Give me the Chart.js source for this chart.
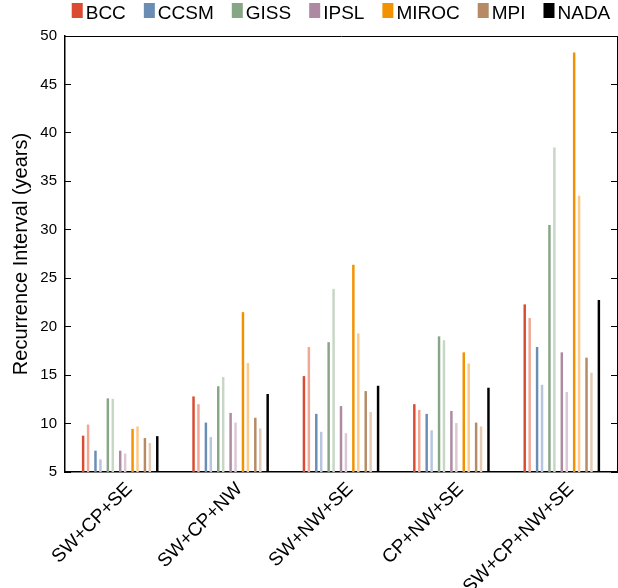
<!DOCTYPE html>
<html>
<head>
<meta charset="utf-8">
<title>Recurrence interval by region</title>
<script src="https://cdn.jsdelivr.net/npm/chart.js@4.4.1/dist/chart.umd.min.js"></script>
<style>
  html, body { margin: 0; padding: 0; background: #fff; }
  #wrap { width: 618px; height: 588px; position: relative; }
</style>
</head>
<body>
<div id="wrap"><canvas id="recurrenceChart"></canvas></div>
<script>
// region combinations on the x axis
const regions = ["SW+CP+SE", "SW+CP+NW", "SW+NW+SE", "CP+NW+SE", "SW+CP+NW+SE"];

// recurrence interval (years), dark bar = first run, light bar = second run
const bccA   = [8.75, 12.8, 14.9, 12.0, 22.3];
const bccB   = [9.9, 12.0, 17.9, 11.4, 20.9];
const ccsmA  = [7.2, 10.1, 11.0, 11.0, 17.9];
const ccsmB  = [6.3, 8.6, 9.15, 9.3, 14.0];
const gissA  = [12.6, 13.85, 18.4, 19.0, 30.5];
const gissB  = [12.55, 14.8, 23.9, 18.6, 38.5];
const ipslA  = [7.2, 11.1, 11.8, 11.3, 17.35];
const ipslB  = [6.9, 10.1, 9.0, 10.05, 13.25];
const mirocA = [9.45, 21.5, 26.4, 17.35, 48.3];
const mirocB = [9.7, 16.25, 19.3, 16.2, 33.5];
const mpiA   = [8.5, 10.6, 13.35, 10.1, 16.8];
const mpiB   = [8.0, 9.5, 11.2, 9.7, 15.25];
const nada   = [8.7, 13.05, 13.9, 13.7, 22.75];

const yTicks = [5, 10, 15, 20, 25, 30, 35, 40, 45, 50];

const models = [
  { name: "BCC",   a: bccA,   b: bccB,   dark: "#db4b33", light: "#f1a793" },
  { name: "CCSM",  a: ccsmA,  b: ccsmB,  dark: "#6a8db4", light: "#b7c6de" },
  { name: "GISS",  a: gissA,  b: gissB,  dark: "#87a686", light: "#c7d6c5" },
  { name: "IPSL",  a: ipslA,  b: ipslB,  dark: "#ad8aa2", light: "#dcc7d5" },
  { name: "MIROC", a: mirocA, b: mirocB, dark: "#f39200", light: "#fdc98b" },
  { name: "MPI",   a: mpiA,   b: mpiB,   dark: "#b58a65", light: "#e6cbb4" }
];

// pick a condensed face for legend / category labels if there is one
function hasFont(name) {
  const c = document.createElement("canvas").getContext("2d");
  c.font = "40px monospace";
  const w1 = c.measureText("MIROC NADA SW+CP").width;
  c.font = '40px "' + name + '", monospace';
  const w2 = c.measureText("MIROC NADA SW+CP").width;
  return w1 !== w2;
}
const labelFont = hasFont("Liberation Sans Narrow")
  ? { family: '"Liberation Sans Narrow", "Liberation Sans", sans-serif', size: 21 }
  : { family: '"Liberation Sans", Arial, sans-serif', size: 19 };

// dark, gap, light, gap, gap ... then NADA : gives the paired spacing
const datasets = [];
const empty = regions.map(() => null);
models.forEach(m => {
  datasets.push({ label: m.name, legendLabel: m.name, data: m.a, backgroundColor: m.dark });
  datasets.push({ label: "", data: empty });
  datasets.push({ label: m.name + " (2)", data: m.b, backgroundColor: m.light });
  datasets.push({ label: "", data: empty });
  datasets.push({ label: "", data: empty });
});
datasets.push({ label: "NADA", legendLabel: "NADA", data: nada, backgroundColor: "#000000" });

const swatchLegend = {
  id: "swatchLegend",
  afterDraw(chart) {
    const ctx = chart.ctx;
    const items = chart.data.datasets.filter(d => d.legendLabel);
    const boxW = 11, boxH = 15, textGap = 3, itemGap = 18;
    ctx.save();
    ctx.font = labelFont.size + "px " + labelFont.family;
    const widths = items.map(d => ctx.measureText(d.legendLabel).width);
    const total = widths.reduce((s, w) => s + boxW + textGap + w, 0) + itemGap * (items.length - 1);
    const area = chart.chartArea;
    let x = (area.left + area.right) / 2 - total / 2;
    ctx.textBaseline = "alphabetic";
    items.forEach((d, i) => {
      ctx.fillStyle = d.backgroundColor;
      ctx.fillRect(x, 3, boxW, boxH);
      ctx.fillStyle = "#000";
      ctx.fillText(d.legendLabel, x + boxW + textGap, 18.5);
      x += boxW + textGap + widths[i] + itemGap;
    });
    ctx.restore();
  }
};

Chart.defaults.color = "#000";
Chart.defaults.font.family = '"Liberation Sans", Arial, sans-serif';

const ctx = document.getElementById("recurrenceChart").getContext("2d");
new Chart(ctx, {
  type: "bar",
  data: { labels: regions, datasets: datasets },
  options: {
    responsive: true,
    maintainAspectRatio: false,
    animation: false,
    categoryPercentage: 0.694,
    barPercentage: 1,
    layout: { padding: { top: 36, left: 0, right: 0, bottom: 0 } },
    plugins: {
      legend: { display: false },
      tooltip: { enabled: false }
    },
    scales: {
      x: {
        position: "bottom",
        grid: { display: false },
        border: { display: true, color: "#000", width: 1.5 },
        ticks: {
          maxRotation: 45, minRotation: 45,
          padding: -2,
          labelOffset: 9,
          font: { family: labelFont.family, size: labelFont.size }
        },
        afterFit(scale) { scale.height = 116; }
      },
      xTop: {
        type: "category",
        position: "top",
        labels: regions,
        grid: { display: false },
        border: { display: true, color: "#000", width: 1 },
        ticks: { display: false },
        afterFit(scale) { scale.height = 0; }
      },
      y: {
        position: "left",
        min: 5, max: 50,
        afterBuildTicks(scale) { scale.ticks = yTicks.map(v => ({ value: v })); },
        grid: { drawOnChartArea: false, tickLength: -6, tickColor: "#000", tickWidth: 1 },
        border: { display: true, color: "#000", width: 1.5 },
        ticks: { padding: 14, font: { size: 15 } },
        title: {
          display: true,
          text: "Recurrence Interval (years)",
          font: { size: 20 },
          padding: { top: 9, bottom: 0 }
        },
        afterFit(scale) { scale.width = 65; }
      },
      yRight: {
        type: "linear",
        position: "right",
        min: 5, max: 50,
        afterBuildTicks(scale) { scale.ticks = yTicks.map(v => ({ value: v })); },
        grid: { drawOnChartArea: false, tickLength: -6, tickColor: "#000", tickWidth: 1 },
        border: { display: true, color: "#000", width: 1 },
        ticks: { display: false },
        afterFit(scale) { scale.width = 1; }
      }
    }
  },
  plugins: [swatchLegend]
});
</script>
</body>
</html>
